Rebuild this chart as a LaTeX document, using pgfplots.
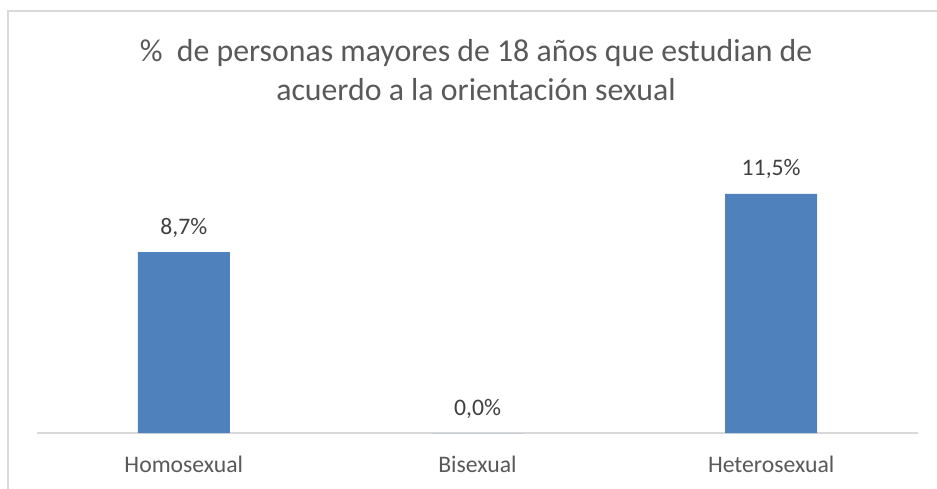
\documentclass[border=0pt]{standalone}
\usepackage{pgfplots}
\pgfplotsset{compat=1.18}
\usepackage{fontspec}
\setmainfont{Carlito}

\definecolor{barblue}{HTML}{4F81BD}
\definecolor{txtgray}{HTML}{595959}
\definecolor{lblgray}{HTML}{404040}
\definecolor{framegray}{HTML}{D9D9D9}

\begin{document}
\begin{tikzpicture}
\useasboundingbox[fill=white] (0,0) rectangle (937bp,489bp);
% chart frame (right and bottom edges are cut off in the reference)
\draw[framegray, line width=1.2bp] (8bp,0) -- (8bp,478bp) -- (937bp,478bp);

% title
\node[anchor=base, text=txtgray, font=\fontsize{31.8bp}{38bp}\selectfont] at (476bp,427bp)
  {\%\ \ de personas mayores de 18 años que estudian de};
\node[anchor=base, text=txtgray, font=\fontsize{31.8bp}{38bp}\selectfont] at (476bp,388bp)
  {acuerdo a la orientación sexual};

\begin{axis}[
  at={(37bp,56bp)}, anchor=south west,
  scale only axis,
  width=881bp, height=291bp,
  xmin=-0.5, xmax=2.5,
  ymin=0, ymax=14,
  axis x line*=bottom,
  axis y line=none,
  x axis line style={framegray, line width=1.2bp, -},
  xtick={0,1,2},
  xticklabels={Homosexual,Bisexual,Heterosexual},
  major tick length=0pt,
  xticklabel style={anchor=base, yshift=-39bp, text=txtgray,
    font=\fontsize{23.7bp}{28bp}\selectfont},
  ybar, bar width=92bp,
  nodes near coords={\pgfmathprintnumber[fixed,fixed zerofill,precision=1,use comma]{\pgfplotspointmeta}\%},
  nodes near coords style={anchor=base, yshift=18bp, text=lblgray,
    font=\fontsize{23.7bp}{28bp}\selectfont,
    /pgf/number format/assume math mode=true},
  clip=false,
]
\addplot[fill=barblue, draw=none] coordinates {(0,8.7) (1,0) (2,11.5)};
\end{axis}
\end{tikzpicture}
\end{document}
